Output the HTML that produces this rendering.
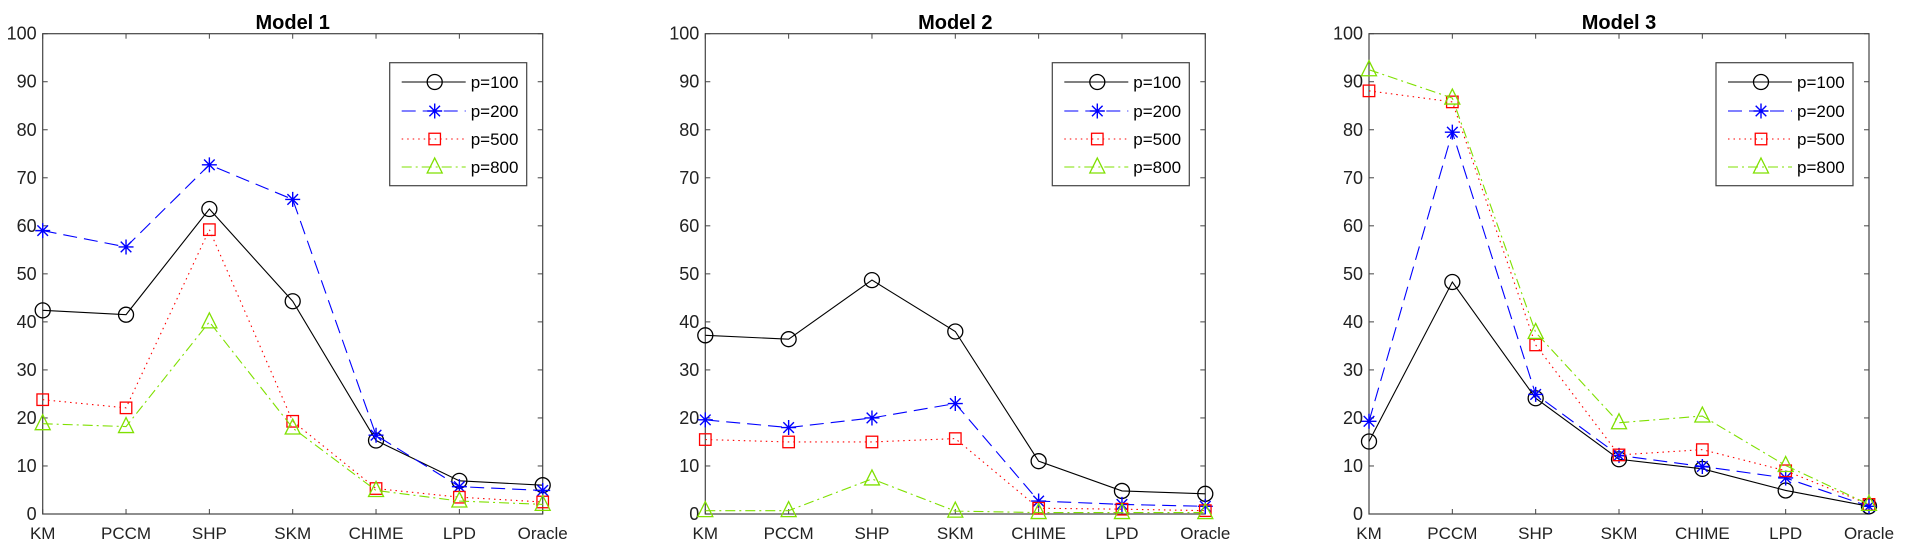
<!DOCTYPE html>
<html><head><meta charset="utf-8">
<style>
html,body{margin:0;padding:0;background:#fff;}
svg{display:block;font-family:"Liberation Sans",Arial,sans-serif;}
</style></head>
<body>
<svg id="fig" width="1908" height="556" viewBox="0 0 1908 556" xmlns="http://www.w3.org/2000/svg"></svg>
<script>
const categories = ["KM","PCCM","SHP","SKM","CHIME","LPD","Oracle"];
const yTicks = [0,10,20,30,40,50,60,70,80,90,100];
const seriesNames = ["p=100","p=200","p=500","p=800"];
const panelTitles = ["Model 1","Model 2","Model 3"];
const m1_p100 = [42.4,41.5,63.5,44.3,15.3,6.9,6.0];
const m1_p200 = [59.0,55.6,72.7,65.5,16.4,5.7,4.9];
const m1_p500 = [23.8,22.1,59.2,19.3,5.3,3.5,2.5];
const m1_p800 = [18.8,18.2,40.0,17.9,4.9,2.7,2.0];
const m2_p100 = [37.2,36.4,48.7,38.0,11.0,4.8,4.2];
const m2_p200 = [19.6,18.0,20.0,23.0,2.7,2.0,1.6];
const m2_p500 = [15.5,15.0,15.0,15.7,1.2,1.0,0.7];
const m2_p800 = [0.7,0.7,7.3,0.6,0.3,0.3,0.3];
const m3_p100 = [15.1,48.3,24.1,11.4,9.4,4.9,1.6];
const m3_p200 = [19.3,79.5,24.9,12.2,9.9,7.5,1.6];
const m3_p500 = [88.1,85.8,35.2,12.3,13.4,9.0,2.0];
const m3_p800 = [92.5,86.6,37.8,19.0,20.4,10.1,2.0];
const panelData = [[m1_p100,m1_p200,m1_p500,m1_p800],[m2_p100,m2_p200,m2_p500,m2_p800],[m3_p100,m3_p200,m3_p500,m3_p800]];

const NS="http://www.w3.org/2000/svg";
const svgRoot=document.getElementById('fig');
const styles=[
 {color:"#000",dash:"",marker:"circle"},
 {color:"#0000ff",dash:"14 7",marker:"star"},
 {color:"#ff0000",dash:"1.5 4",marker:"square"},
 {color:"#7fe000",dash:"10 4 2 4",marker:"triangle"}];
function el(tag,attrs,parent){const e=document.createElementNS(NS,tag);for(const k in attrs)e.setAttribute(k,attrs[k]);(parent||svgRoot).appendChild(e);return e;}
function marker(g,type,x,y,c){
  let m;
  if(type==="circle") m=el('circle',{cx:x,cy:y,r:7.5,fill:'none',stroke:c,'stroke-width':1.3},g);
  else if(type==="square") m=el('rect',{x:x-5.75,y:y-5.75,width:11.5,height:11.5,fill:'none',stroke:c,'stroke-width':1.3},g);
  else if(type==="triangle") m=el('path',{d:`M${x} ${y-9}L${x+7.5} ${y+6}L${x-7.5} ${y+6}Z`,fill:'none',stroke:c,'stroke-width':1.3},g);
  else { let d=''; for(let a=0;a<4;a++){const t=a*Math.PI/4;const dx=7.5*Math.cos(t),dy=7.5*Math.sin(t);d+=`M${x-dx} ${y-dy}L${x+dx} ${y+dy}`;} m=el('path',{d:d,stroke:c,'stroke-width':1.4,fill:'none'},g);}
  return m;
}
const lefts=[42.7,705.3,1369];
const W=500, AX_TOP=33.7, AX_BOTTOM=514;
panelData.forEach((series,pi)=>{
  const L=lefts[pi];
  const xS=i=>L+i*W/(categories.length-1);
  const yS=v=>AX_BOTTOM-(v/100)*(AX_BOTTOM-AX_TOP);
  const g=el('g',{});
  
  
  const t=el('text',{x:L+W/2,y:29,'text-anchor':'middle','font-size':20,'font-weight':'bold',fill:'#000'},g);
  t.textContent=panelTitles[pi];
  
  
  yTicks.forEach(v=>{
    const y=yS(v);
    el('line',{x1:L,x2:L+5,y1:y,y2:y,stroke:'#444','stroke-width':1},g);
    el('line',{x1:L+W,x2:L+W-5,y1:y,y2:y,stroke:'#444','stroke-width':1},g);
    const tl=el('text',{x:L-6,y:y+6,'text-anchor':'end','font-size':18,fill:'#222'},g);
    tl.textContent=v;
    
    
  });
  categories.forEach((c,i)=>{
    const x=xS(i);
    el('line',{x1:x,x2:x,y1:AX_BOTTOM,y2:AX_BOTTOM-5,stroke:'#444','stroke-width':1},g);
    el('line',{x1:x,x2:x,y1:AX_TOP,y2:AX_TOP+5,stroke:'#444','stroke-width':1},g);
    const tl=el('text',{x:x,y:AX_BOTTOM+25,'text-anchor':'middle','font-size':17,fill:'#222'},g);
    tl.textContent=c;
    
    
  });
  const ax=el('rect',{x:L,y:AX_TOP,width:W,height:AX_BOTTOM-AX_TOP,fill:'none',stroke:'#444','stroke-width':1.2},g);
  
  
  series.forEach((vals,si)=>{
    const s=styles[si];
    const pts=vals.map((v,i)=>xS(i)+','+yS(v)).join(' ');
    const pl=el('polyline',{points:pts,fill:'none',stroke:s.color,'stroke-width':1.1,'stroke-dasharray':s.dash},g);
    
    
    vals.forEach((v,i)=>{
      const m=marker(g,s.marker,xS(i),yS(v),s.color);
      
      
    });
  });
  const lx=L+347, ly=AX_TOP+29;
  const lg=el('g',{},g);
  
  
  el('rect',{x:lx,y:ly,width:137,height:123,fill:'#fff',stroke:'#444','stroke-width':1.2},lg);
  const rows=[82,111,139,167];
  seriesNames.forEach((n,si)=>{
    const s=styles[si];
    const y=rows[si];
    const e=el('g',{},lg);
    
    
    el('line',{x1:lx+12,x2:lx+76,y1:y,y2:y,stroke:s.color,'stroke-width':1.1,'stroke-dasharray':s.dash},e);
    marker(e,s.marker,lx+45,y,s.color);
    const tx=el('text',{x:lx+81,y:y+6,'font-size':17,fill:'#000'},e);
    tx.textContent=n;
  });
});
</script>
</body></html>
